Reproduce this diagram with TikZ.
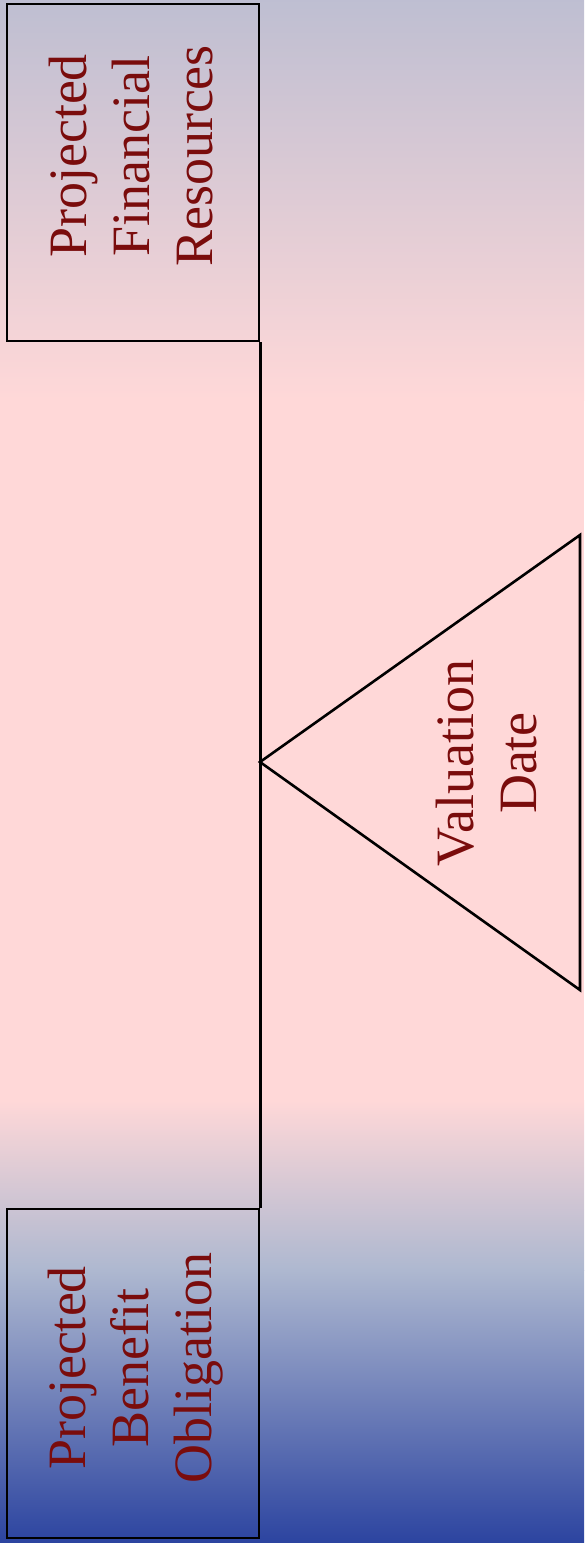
\documentclass[tikz,border=0pt]{standalone}
\usepackage{fontspec}
\setmainfont{Liberation Serif}
\definecolor{bgpink}{HTML}{FFD8D8}
\definecolor{textred}{HTML}{7A0C0C}
\definecolor{haze}{HTML}{AEB8D0}
\definecolor{midblue}{HTML}{6A80B8}
\definecolor{deepblue}{HTML}{2C44A0}

\begin{document}
\begin{tikzpicture}[x=1pt, y=-1pt,
  box/.style={draw, line width=2.6pt, rotate=90, minimum height=252pt, inner sep=0pt},
  lbl/.style={rotate=90, align=center, text=textred, font=\fontsize{54}{63}\selectfont},
  beam/.style={line width=2.6pt, line join=miter}
]
  \useasboundingbox (0,0) rectangle (584,1543);

  % Background
  \fill[bgpink] (0,0) rectangle (584,1543);
  \shade[top color=haze!80!bgpink, bottom color=bgpink] (0,0) rectangle (584,400);
  \shade[top color=bgpink, bottom color=haze] (0,1100) rectangle (584,1270);
  \shade[top color=haze, middle color=midblue, bottom color=deepblue] (0,1270) rectangle (584,1543);

  % Boxes
  \node[box, minimum width=337pt] (pfr) at (133,172.5) {};
  \node[lbl] (pfrlbl) at (131,156) {Projected\\Financial\\Resources};
  \node[box, minimum width=329pt] (pbo) at (133,1373.5) {};
  \node[lbl] (pbolbl) at (136,1368) {Projected\\Benefit\\Obligation};

  % Fulcrum
  \coordinate (pivot) at (260,762);
  \coordinate (basetop) at (580,535);
  \coordinate (basebot) at (580,990);
  \node[lbl] (valdate) at (487,763) {Valuation\\Date};

  % Lines
  \draw[beam] (pfr.south west) -- (pbo.south east);
  \draw[beam] (pivot) -- (basetop) -- (basebot) -- cycle;
\end{tikzpicture}
\end{document}
